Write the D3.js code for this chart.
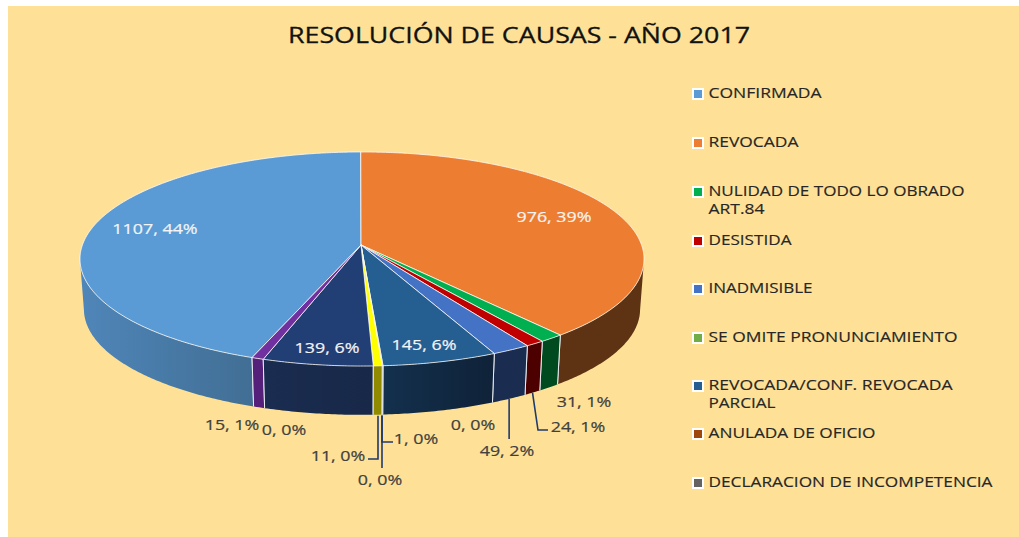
<!DOCTYPE html>
<html><head><meta charset="utf-8">
<script src="https://cdn.jsdelivr.net/npm/d3@7"></script>
<style>html,body{margin:0;padding:0;background:#fff;overflow:hidden}svg{display:block;font-family:"Open Sans",sans-serif}</style>
</head><body><svg id="c" width="1019" height="537"></svg>
<script>
const chartTitle = "RESOLUCIÓN DE CAUSAS - AÑO 2017";
const legendCategories = ["CONFIRMADA","REVOCADA","NULIDAD DE TODO LO OBRADO ART.84","DESISTIDA","INADMISIBLE","SE OMITE PRONUNCIAMIENTO","REVOCADA/CONF. REVOCADA PARCIAL","ANULADA DE OFICIO","DECLARACION DE INCOMPETENCIA"];
const values = [1107,976,31,24,49,0,145,1,0,11,139,0,15];
const percents = [44,39,1,1,2,0,6,0,0,0,6,0,1];
const colors = ["#5B9BD5","#ED7D31","#00B050","#C00000","#4472C4","#70AD47","#255E91","#9E480E","#636363","#FFFF00","#223F75","#7F7F7F","#7030A0"];
const sideLeft = ["#4F86B9","#5E3314","#004A20","#4D0000","#1A2C50","#2E4A1C","#13304D","#401D06","#282828","#8F8A00","#1A2C50","#333333","#55207A"];
const sideRight = ["#416E94","#5E3314","#004A20","#4D0000","#1A2C50","#2E4A1C","#0F2238","#401D06","#282828","#8F8A00","#172848","#333333","#55207A"];
// label placement: centre x, centre y, text colour, for each slice
const labelX = [155,554,584,578,507,473,424,416,380,338,327,284,232];
const labelY = [228,216,401,426,450,424,344,438,479,455,347,429,424];
const labelWhite = [1,1,0,0,0,0,1,0,0,0,1,0,0];
const legendY = [93,142,191,240,288,337,385,433,482];
const legendWidths = [[113],[90],[256,56],[83],[104],[249],[244,67],[167],[284]];
const legendLines = [["CONFIRMADA"],["REVOCADA"],["NULIDAD DE TODO LO OBRADO","ART.84"],["DESISTIDA"],["INADMISIBLE"],["SE OMITE PRONUNCIAMIENTO"],["REVOCADA/CONF. REVOCADA","PARCIAL"],["ANULADA DE OFICIO"],["DECLARACION DE INCOMPETENCIA"]];

const svg = d3.select("#c");
svg.append("rect").attr("x",8).attr("y",6).attr("width",1011).attr("height",531).attr("fill","#FEE196");

// perspective disc: top face and a slightly smaller bottom face
const cx = 362, cy = 245, a = 279.6, b = 105.2, k = 0.1308;
const project = (ang, scale, dy) => {
  const u = Math.sin(ang), v = -Math.cos(ang), w = 1 - k*v;
  return [cx + scale*a*u/w, cy + dy + scale*b*v/w];
};
const apex = [361, cy];
const start = -2*Math.PI*values[0]/d3.sum(values) - 0.005;
const arcs = d3.pie().sort(null).value(d=>d).startAngle(start).endAngle(start+2*Math.PI)(values);
const BOT = 0.986, DEPTH = 50.5;
const samples = d => { const n = Math.max(2, Math.ceil((d.endAngle-d.startAngle)/0.01));
  return d3.range(n+1).map(i => d.startAngle + (d.endAngle-d.startAngle)*i/n); };
const line = d3.line();
const defs = svg.append("defs");

// side faces: only the part of each slice between the disc's left and right silhouette
const order = arcs.map((d,i)=>i).sort((p,q)=>{
  const c = i => -Math.cos((arcs[i].startAngle+arcs[i].endAngle)/2);
  return c(p)-c(q);
});
order.forEach(i=>{
  const d = arcs[i]; if (d.value===0) return;
  const ts = samples(d).filter(t=>Math.cos(t) <= -k);
  if (ts.length<2) return;
  const top = ts.map(t=>project(t,1,0));
  const bot = ts.map(t=>project(t,BOT,DEPTH)).reverse();
  const xs = top.map(p=>p[0]);
  const g = defs.append("linearGradient").attr("id","s"+i).attr("gradientUnits","userSpaceOnUse")
    .attr("x1",d3.min(xs)).attr("x2",d3.max(xs)).attr("y1",0).attr("y2",0);
  g.append("stop").attr("offset",0).attr("stop-color",sideLeft[i]);
  g.append("stop").attr("offset",1).attr("stop-color",sideRight[i]);
  svg.append("path").attr("d",line(top.concat(bot))+"Z").attr("fill",`url(#s${i})`);
  [d.startAngle,d.endAngle].forEach(t=>{
    if (Math.cos(t) <= -k) svg.append("path").attr("d",line([project(t,1,0),project(t,BOT,DEPTH)]))
      .attr("stroke","#E8EDF2").attr("stroke-width",1).attr("fill","none");
  });
});

// top faces
arcs.forEach((d,i)=>{
  if (d.value===0) return;
  const pts = [apex].concat(samples(d).map(t=>project(t,1,0)));
  svg.append("path").attr("d",line(pts)+"Z").attr("fill",colors[i])
    .attr("stroke","#fff").attr("stroke-opacity",0.75).attr("stroke-width",1).attr("stroke-linejoin","round");
});

// leader lines, anchored on each slice's lower rim
const rim = i => project((arcs[i].startAngle+arcs[i].endAngle)/2,BOT,DEPTH);
const leaders = [
  [4, (p)=>[p,[p[0],439]]],
  [3, (p)=>[p,[538,430],[548,430]]],
  [7, (p)=>[[382,p[1]+1],[382,442],[393,442]]],
  [8, (p)=>[[382,p[1]+1],[382,468]]],
  [9, (p)=>[[378,p[1]+1],[378,459],[368,459]]]
];
leaders.forEach(([i,f])=>{
  svg.append("path").attr("d",line(f(rim(i)))).attr("fill","none").attr("stroke","#1F3A6E").attr("stroke-width",1.6);
});

// data labels
values.forEach((v,i)=>{
  const col = labelWhite[i]?"#F4F4F4":"#404040";
  const t = svg.append("text").attr("x",labelX[i]).attr("y",labelY[i]).attr("text-anchor","middle").attr("dominant-baseline","central")
    .attr("font-size",15).attr("fill",col).attr("stroke",col).attr("stroke-width",0.2).text(`${v}, ${percents[i]}%`);
  t.attr("textLength",t.node().getComputedTextLength()*1.19).attr("lengthAdjust","spacingAndGlyphs");
});

// title
svg.append("text").attr("x",519).attr("y",43).attr("text-anchor","middle").attr("font-size",22)
  .attr("fill","#111").attr("stroke","#111").attr("stroke-width",0.3)
  .attr("textLength",462).attr("lengthAdjust","spacingAndGlyphs").text(chartTitle);

// legend
legendCategories.forEach((name,i)=>{
  const y = legendY[i];
  svg.append("rect").attr("x",693).attr("y",y-4).attr("width",10).attr("height",10)
    .attr("fill",colors[i]).attr("stroke","#fff").attr("stroke-width",2);
  legendLines[i].forEach((t,j)=>{
    svg.append("text").attr("x",708.5).attr("y",y+5+j*18).attr("font-size",14).attr("fill","#262626")
      .attr("stroke","#262626").attr("stroke-width",0.15)
      .attr("textLength",legendWidths[i][j]).attr("lengthAdjust","spacingAndGlyphs").text(t);
  });
});
</script></body></html>
